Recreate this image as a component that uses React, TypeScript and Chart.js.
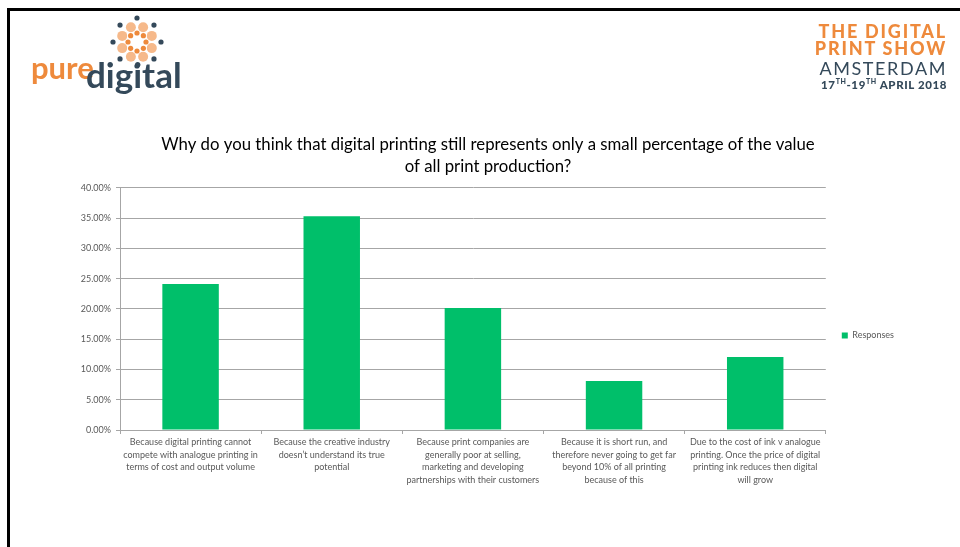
import React, { useEffect, useRef } from "react";
import { Chart, registerables } from "chart.js";

Chart.register(...registerables);

const categories: string[][] = [
  ["Because digital printing cannot", "compete with analogue printing in", "terms of cost and output volume"],
  ["Because the creative industry", "doesn\u2019t understand its true", "potential"],
  ["Because print companies are", "generally poor at selling,", "marketing and developing", "partnerships with their customers"],
  ["Because it is short run, and", "therefore never going to get far", "beyond 10% of all printing", "because of this"],
  ["Due to the cost of ink v analogue", "printing. Once the price of digital", "printing ink reduces then digital", "will grow"],
];
const responses = [24.14, 35.34, 20.17, 8.1, 12.07];
const seriesName = "Responses";
const titleLines = [
  "Why do you think that digital printing still represents only a small percentage of the value",
  "of all print production?",
];
const yMin = 0;
const yMax = 40;
const yStep = 5;

const FONT = "Lato, 'Open Sans', sans-serif";
const GREEN = "#00BF6A";
const GRID = "#a6a6a6";
const LABEL = "#595959";
const ORANGE = "#EE8A3C";
const SLATE = "#34495A";

function PureDigitalLogo() {
  const cx = 137, cy = 42;
  const dots: JSX.Element[] = [];
  for (let i = 0; i < 8; i++) {
    const a = (i * Math.PI * 2) / 8 - Math.PI / 2;
    dots.push(<circle key={"o" + i} cx={cx + 24 * Math.cos(a)} cy={cy + 24 * Math.sin(a)} r={2.6} fill={SLATE} />);
    const b = a + Math.PI / 8;
    dots.push(<circle key={"m" + i} cx={cx + 16 * Math.cos(b)} cy={cy + 16 * Math.sin(b)} r={5} fill="#F6B98A" />);
    dots.push(<circle key={"i" + i} cx={cx + 9 * Math.cos(a)} cy={cy + 9 * Math.sin(a)} r={2.6} fill={ORANGE} />);
  }
  return (
    <div style={{ position: "absolute", left: 0, top: 0, width: 200, height: 110 }}>
      <svg width={200} height={110} style={{ position: "absolute", left: 0, top: 0 }}>{dots}</svg>
      <div style={{ position: "absolute", left: 31, top: 49, fontFamily: "Lato, sans-serif", fontWeight: 700, fontSize: 31, color: ORANGE, lineHeight: "36px" }}>pure</div>
      <div style={{ position: "absolute", left: 86, top: 54, fontFamily: "Lato, sans-serif", fontWeight: 700, fontSize: 35, color: SLATE, lineHeight: "40px" }}>digital</div>
    </div>
  );
}

function ShowLogo() {
  const base: React.CSSProperties = { position: "absolute", right: 13, fontFamily: "Lato, sans-serif", whiteSpace: "nowrap", textAlign: "right" };
  return (
    <div style={{ position: "absolute", left: 0, top: 0, width: 960, height: 110 }}>
      <div style={{ ...base, top: 23, fontSize: 18, fontWeight: 900, color: ORANGE, letterSpacing: 1.8, lineHeight: "17px" }}>THE DIGITAL<br />PRINT SHOW</div>
      <div style={{ ...base, top: 58, fontSize: 18, fontWeight: 400, color: SLATE, letterSpacing: 1.6, lineHeight: "20px" }}>AMSTERDAM</div>
      <div style={{ ...base, top: 74, fontSize: 11.5, fontWeight: 900, color: SLATE, letterSpacing: 0.6, lineHeight: "14px" }}>
        17<sup style={{ fontSize: 7 }}>TH</sup>-19<sup style={{ fontSize: 7 }}>TH</sup> APRIL 2018
      </div>
    </div>
  );
}

export default function App() {
  const ref = useRef<HTMLCanvasElement | null>(null);
  useEffect(() => {
    if (!ref.current) return;
    const chart = new Chart(ref.current, {
      type: "bar",
      data: {
        labels: categories,
        datasets: [
          {
            label: seriesName,
            data: responses,
            backgroundColor: GREEN,
            borderWidth: 0,
            categoryPercentage: 1,
            barPercentage: 0.4,
          },
        ],
      },
      options: {
        responsive: false,
        animation: false,
        layout: { padding: { top: 134, bottom: 10, left: 72, right: 56 } },
        plugins: {
          title: {
            display: true,
            text: titleLines,
            color: "#000",
            font: { family: FONT, size: 16.75, weight: "normal", lineHeight: 1.313 },
            padding: { top: 0, bottom: 10 },
          },
          legend: {
            position: "right",
            labels: {
              boxWidth: 6,
              boxHeight: 6,
              padding: 16,
              color: LABEL,
              font: { family: FONT, size: 9 },
            },
          },
          tooltip: { enabled: false },
        },
        scales: {
          x: {
            grid: { display: true, drawOnChartArea: false, drawTicks: true, tickLength: 4, offset: true, color: GRID },
            border: { color: GRID },
            ticks: { font: { family: FONT, size: 9, lineHeight: 1.39 }, color: LABEL, maxRotation: 0, minRotation: 0, autoSkip: false, padding: 2 },
            afterFit: (s: any) => { s.height = 107; },
          },
          y: {
            min: yMin,
            max: yMax,
            grid: { color: GRID, tickLength: 4 },
            border: { color: GRID },
            ticks: {
              stepSize: yStep,
              color: LABEL,
              padding: 5,
              font: { family: FONT, size: 9 },
              callback: (v: any) => Number(v).toFixed(2) + "%",
            },
            afterFit: (s: any) => { s.width = 48; },
          },
        },
      },
    });
    return () => chart.destroy();
  }, []);
  return (
    <div style={{ position: "absolute", left: 0, top: 0, width: 960, height: 547, overflow: "hidden", background: "#fff" }}>
      <canvas ref={ref} width={960} height={547} style={{ position: "absolute", left: 0, top: 0, width: 960, height: 547 }} />
      <div style={{ position: "absolute", left: 7, top: 8, width: 1000, height: 1000, borderTop: "3px solid #000", borderLeft: "3px solid #000" }} />
      <PureDigitalLogo />
      <ShowLogo />
    </div>
  );
}
